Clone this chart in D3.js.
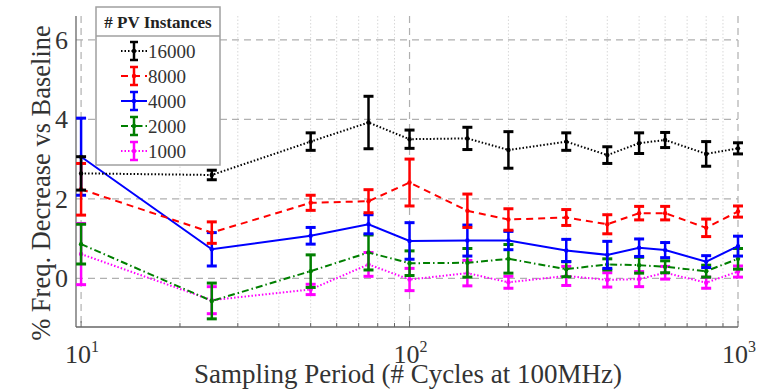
<!DOCTYPE html>
<html>
<head>
<meta charset="utf-8">
<script src="https://cdn.jsdelivr.net/npm/d3@7"></script>
<style>
  html, body { margin: 0; padding: 0; background: #fff; }
  svg { display: block; font-family: "Liberation Serif", "Times New Roman", serif; }
</style>
</head>
<body>
<svg id="chart" width="774" height="389"></svg>
<script>
// sampling periods (# cycles)
const periods = [10, 25, 50, 75, 100, 150, 200, 300, 400, 500, 600, 800, 1000];
const seriesNames = ['16000', '8000', '4000', '2000', '1000'];

// mean % frequency decrease and half-width of the error bar
const mean16000 = [2.64, 2.60, 3.44, 3.92, 3.50, 3.52, 3.23, 3.44, 3.10, 3.40, 3.48, 3.13, 3.27];
const err16000 = [0.42, 0.12, 0.22, 0.66, 0.23, 0.28, 0.46, 0.22, 0.21, 0.26, 0.19, 0.31, 0.14];
const mean8000 = [2.24, 1.15, 1.90, 1.94, 2.41, 1.70, 1.48, 1.53, 1.36, 1.64, 1.64, 1.27, 1.68];
const err8000 = [0.65, 0.27, 0.19, 0.29, 0.59, 0.42, 0.27, 0.20, 0.24, 0.17, 0.17, 0.22, 0.14];
const mean4000 = [3.06, 0.73, 1.07, 1.36, 0.94, 0.95, 0.95, 0.70, 0.59, 0.77, 0.71, 0.42, 0.81];
const err4000 = [0.97, 0.42, 0.21, 0.24, 0.46, 0.39, 0.23, 0.28, 0.34, 0.22, 0.19, 0.15, 0.25];
const mean2000 = [0.86, -0.57, 0.18, 0.65, 0.38, 0.39, 0.49, 0.23, 0.35, 0.33, 0.29, 0.18, 0.49];
const err2000 = [0.50, 0.45, 0.41, 0.44, 0.31, 0.36, 0.36, 0.19, 0.14, 0.20, 0.15, 0.15, 0.26];
const mean1000 = [0.61, -0.55, -0.28, 0.35, -0.03, 0.13, -0.10, 0.06, -0.04, -0.02, 0.14, -0.11, 0.17];
const err1000 = [0.77, 0.34, 0.13, 0.30, 0.28, 0.32, 0.15, 0.24, 0.18, 0.19, 0.16, 0.14, 0.14];

const yTicks = [0, 2, 4, 6];
const xMajor = [10, 100, 1000];

const colors = ['#000000', '#ff0000', '#0000ff', '#007f00', '#ff00ff'];
const dashes = ['1.5,2', '7,5', null, '7,3,1.5,3', '1.5,2'];

const svg = d3.select('#chart');
const plotLeft = 76, plotRight = 738, plotTop = 16, plotBottom = 327;

const x = d3.scaleLog().domain([9.65, 1000]).range([plotLeft, plotRight]);
const y = d3.scaleLinear().domain([-1.225, 6.6]).range([plotBottom, plotTop]);

// grid: minor dotted verticals
const minor = [];
[10, 100].forEach(d => { for (let k = 2; k <= 9; k++) minor.push(d * k); });
svg.append('g').selectAll('line').data(minor).enter().append('line')
  .attr('x1', d => x(d)).attr('x2', d => x(d))
  .attr('y1', plotTop).attr('y2', plotBottom)
  .style('stroke', '#d8d8d8').style('stroke-width', 1)
  .style('stroke-dasharray', '1.5,2');

// grid: major dashed
svg.append('g').selectAll('line').data(xMajor).enter().append('line')
  .attr('x1', d => x(d)).attr('x2', d => x(d))
  .attr('y1', plotTop).attr('y2', plotBottom)
  .style('stroke', '#b0b0b0').style('stroke-width', 1.2)
  .style('stroke-dasharray', '7,5');
svg.append('g').selectAll('line').data(yTicks).enter().append('line')
  .attr('x1', plotLeft).attr('x2', plotRight)
  .attr('y1', d => y(d)).attr('y2', d => y(d))
  .style('stroke', '#b0b0b0').style('stroke-width', 1.2)
  .style('stroke-dasharray', '7,5');

// axes lines + small upward ticks on the x axis
svg.append('line').attr('x1', plotLeft).attr('x2', plotLeft).attr('y1', plotTop).attr('y2', plotBottom)
  .style('stroke', '#666').style('stroke-width', 1.3);
svg.append('line').attr('x1', plotLeft).attr('x2', plotRight).attr('y1', plotBottom).attr('y2', plotBottom)
  .style('stroke', '#666').style('stroke-width', 1.3);
svg.append('g').selectAll('line').data(minor.concat(xMajor)).enter().append('line')
  .attr('x1', d => x(d)).attr('x2', d => x(d))
  .attr('y1', plotBottom).attr('y2', d => plotBottom - (xMajor.includes(d) ? 6 : 4))
  .style('stroke', '#666').style('stroke-width', 1);

// y tick labels
svg.append('g').selectAll('text').data(yTicks).enter().append('text')
  .attr('x', 68).attr('y', d => y(d)).attr('dy', '0.35em')
  .attr('text-anchor', 'end')
  .style('font-size', '26px').style('fill', '#333')
  .text(d => d);

// x tick labels 10^n
const xl = svg.append('g').selectAll('text').data(xMajor).enter().append('text')
  .attr('x', d => x(d) + 1).attr('y', 363)
  .attr('text-anchor', 'middle')
  .style('font-size', '26px').style('fill', '#333');
xl.append('tspan').text('10');
xl.append('tspan').attr('dy', -11).style('font-size', '16px').text(d => Math.round(Math.log10(d)));

// axis titles
svg.append('text')
  .attr('x', 408).attr('y', 383).attr('text-anchor', 'middle')
  .style('font-size', '27px').style('fill', '#333')
  .text('Sampling Period (# Cycles at 100MHz)');
svg.append('text')
  .attr('transform', 'translate(50,183) rotate(-90)')
  .attr('text-anchor', 'middle')
  .style('font-size', '26.5px').style('fill', '#333')
  .text('% Freq. Decrease vs Baseline');

// series
const means = [mean16000, mean8000, mean4000, mean2000, mean1000];
const errs = [err16000, err8000, err4000, err2000, err1000];
const series = seriesNames.map((name, s) => ({
  name: name,
  idx: s,
  points: periods.map((p, i) => ({ p: p, m: means[s][i], e: errs[s][i] }))
}));

const line = d3.line().x(d => x(d.p)).y(d => y(d.m));
const capW = 5;

// draw from 1000 up to 16000 so that the larger counts sit on top
series.slice().reverse().forEach(sr => {
  const g = svg.append('g');
  const c = colors[sr.idx];
  g.append('path')
    .datum(sr.points)
    .attr('d', line)
    .style('fill', 'none')
    .style('stroke', c)
    .style('stroke-width', 2)
    .style('stroke-dasharray', dashes[sr.idx]);
  const eb = g.selectAll('g.eb').data(sr.points).enter().append('g');
  eb.append('line')
    .attr('x1', d => x(d.p)).attr('x2', d => x(d.p))
    .attr('y1', d => y(d.m - d.e)).attr('y2', d => y(d.m + d.e))
    .style('stroke', c).style('stroke-width', 2.5);
  [-1, 1].forEach(sg => {
    eb.append('line')
      .attr('x1', d => x(d.p) - capW).attr('x2', d => x(d.p) + capW)
      .attr('y1', d => y(d.m + sg * d.e)).attr('y2', d => y(d.m + sg * d.e))
      .style('stroke', c).style('stroke-width', 3);
  });
  eb.append('circle')
    .attr('cx', d => x(d.p)).attr('cy', d => y(d.m)).attr('r', 2.2)
    .style('fill', c);
});

// legend
const lg = svg.append('g');
lg.append('rect').attr('x', 96).attr('y', 7).attr('width', 124).attr('height', 158)
  .style('fill', '#fff').style('stroke', '#a0a0a0').style('stroke-width', 1.5);
lg.append('line').attr('x1', 96).attr('x2', 220).attr('y1', 36).attr('y2', 36)
  .style('stroke', '#a0a0a0').style('stroke-width', 1.5);
lg.append('text').attr('x', 158).attr('y', 28).attr('text-anchor', 'middle')
  .style('font-size', '17px').style('font-weight', 'bold').style('fill', '#222')
  .text('# PV Instances');

const item = lg.selectAll('g.item').data(series).enter().append('g')
  .attr('transform', (d, i) => 'translate(0,' + (51 + i * 25) + ')');
item.append('line').attr('x1', 121).attr('x2', 147).attr('y1', 0).attr('y2', 0)
  .style('stroke', d => colors[d.idx]).style('stroke-width', 2)
  .style('stroke-dasharray', d => dashes[d.idx]);
item.append('line').attr('x1', 134).attr('x2', 134).attr('y1', -9).attr('y2', 9)
  .style('stroke', d => colors[d.idx]).style('stroke-width', 2.5);
[-9, 9].forEach(yy => {
  item.append('line').attr('x1', 130).attr('x2', 138).attr('y1', yy).attr('y2', yy)
    .style('stroke', d => colors[d.idx]).style('stroke-width', 2.5);
});
item.append('circle').attr('cx', 134).attr('cy', 0).attr('r', 2.2)
  .style('fill', d => colors[d.idx]);
item.append('text').attr('x', 148).attr('y', 0).attr('dy', '0.35em')
  .style('font-size', '19px').style('fill', '#333')
  .text(d => d.name);
</script>
</body>
</html>
